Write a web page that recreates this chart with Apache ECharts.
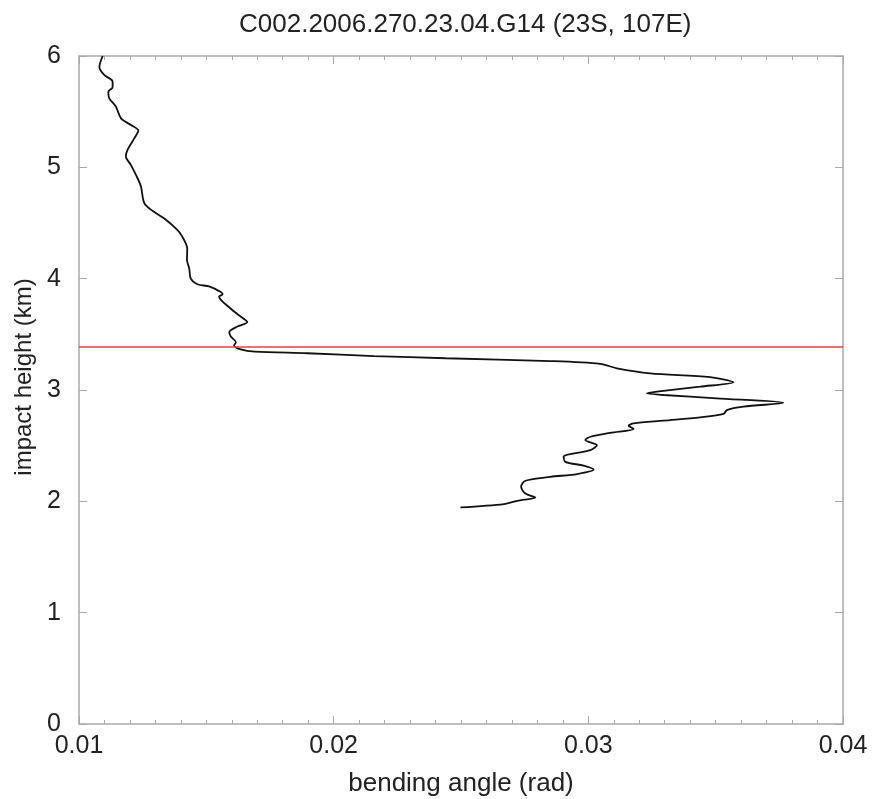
<!DOCTYPE html>
<html>
<head>
<meta charset="utf-8">
<script src="https://cdn.jsdelivr.net/npm/echarts@6/dist/echarts.min.js"></script>
<style>html,body{margin:0;padding:0;background:#fff}#c{width:873px;height:799px}</style>
</head>
<body>
<div id="c"></div>
<script>
var titleText = 'C002.2006.270.23.04.G14 (23S, 107E)';
var xName = 'bending angle (rad)';
var yName = 'impact height (km)';
var xTicks = [0.01, 0.02, 0.03, 0.04];
var yTicks = [0, 1, 2, 3, 4, 5, 6];
var refHeight = 3.39;

var heights = [6.00,5.90,5.83,5.77,5.72,5.68,5.62,5.545,5.44,5.38,5.33,5.26,5.16,5.10,5.02,4.93,4.83,4.68,4.62,4.54,4.44,4.38,4.27,4.17,4.09,4.00,3.95,3.93,3.88,3.86,3.84,3.73,3.66,3.61,3.57,3.52,3.48,3.43,3.40,3.365,3.345,3.33,3.305,3.285,3.26,3.235,3.195,3.15,3.115,3.07,3.03,2.985,2.97,2.955,2.925,2.885,2.85,2.82,2.785,2.755,2.725,2.70,2.68,2.65,2.615,2.58,2.55,2.505,2.46,2.40,2.355,2.32,2.285,2.245,2.22,2.185,2.13,2.07,2.035,2.005,1.975,1.945];
var angles = [0.01093,0.01080,0.01099,0.01132,0.01132,0.01115,0.01119,0.01145,0.01165,0.01204,0.01233,0.01217,0.01191,0.01184,0.01204,0.01224,0.01243,0.01256,0.01282,0.01335,0.01385,0.01405,0.01425,0.01424,0.01433,0.01439,0.01465,0.01511,0.01557,0.01564,0.01550,0.01596,0.01635,0.01661,0.01622,0.01590,0.01596,0.01616,0.01609,0.01635,0.01690,0.01897,0.02158,0.02440,0.02851,0.03047,0.03112,0.03243,0.03478,0.03570,0.03439,0.03269,0.03230,0.03295,0.03504,0.03766,0.03609,0.03544,0.03531,0.03439,0.03295,0.03178,0.03158,0.03178,0.03086,0.03008,0.02988,0.03034,0.03008,0.02903,0.02910,0.02982,0.03021,0.02956,0.02851,0.02753,0.02736,0.02753,0.02792,0.02721,0.02669,0.02498];

var data = heights.map(function(h, i){ return [angles[i], h]; });

var FONT = 'Liberation Sans';
var TXT = '#222';
var AX = '#aaaaaa';

var chart = echarts.init(document.getElementById('c'), null, {renderer: 'canvas'});
var baseX = {
  type: 'value', min: xTicks[0], max: xTicks[xTicks.length-1], interval: 0.01,
  axisLine: {show: true, onZero: false, lineStyle: {color: AX, width: 1.5}},
  axisTick: {show: true, inside: true, length: 8, lineStyle: {color: AX}},
  minorTick: {show: true, splitNumber: 10, length: 4, lineStyle: {color: AX}},
  splitLine: {show: false}, minorSplitLine: {show: false}
};
var baseY = {
  type: 'value', min: yTicks[0], max: yTicks[yTicks.length-1], interval: 1,
  axisLine: {show: true, onZero: false, lineStyle: {color: AX, width: 1.5}},
  axisTick: {show: true, inside: true, length: 8, lineStyle: {color: AX}},
  splitLine: {show: false}
};
chart.setOption({
  animation: false,
  backgroundColor: '#fff',
  title: {
    text: titleText, left: 234, top: 7,
    textStyle: {fontFamily: FONT, fontSize: 26, fontWeight: 'normal', color: TXT}
  },
  grid: {left: 79, top: 56, width: 764, height: 668, containLabel: false, outerBoundsMode: 'none'},
  xAxis: [
    Object.assign({}, baseX, {
      position: 'bottom', name: xName, nameLocation: 'middle', nameGap: 47,
      nameTextStyle: {fontFamily: FONT, fontSize: 26, color: TXT},
      axisLabel: {show: true, margin: 10, fontFamily: FONT, fontSize: 25, color: TXT,
        formatter: function(v){ return v.toFixed(2); }}
    }),
    Object.assign({}, baseX, {position: 'top', axisLabel: {show: false}})
  ],
  yAxis: [
    Object.assign({}, baseY, {
      position: 'left', name: yName, nameLocation: 'middle', nameGap: 40, nameRotate: 90,
      nameTextStyle: {fontFamily: FONT, fontSize: 24, color: TXT, padding: [0, 0, 0, 26]},
      axisLabel: {show: true, margin: 18, fontFamily: FONT, fontSize: 25, color: TXT}
    }),
    Object.assign({}, baseY, {position: 'right', axisLabel: {show: false}})
  ],
  series: [{
    type: 'line', data: data, xAxisIndex: 0, yAxisIndex: 0,
    showSymbol: false, smooth: 0.3,
    lineStyle: {color: '#111', width: 1.8},
    markLine: {
      silent: true, symbol: 'none', label: {show: false},
      lineStyle: {color: '#d9473f', width: 1.6, type: 'solid'},
      data: [{yAxis: refHeight}]
    }
  }]
});
</script>
</body>
</html>
